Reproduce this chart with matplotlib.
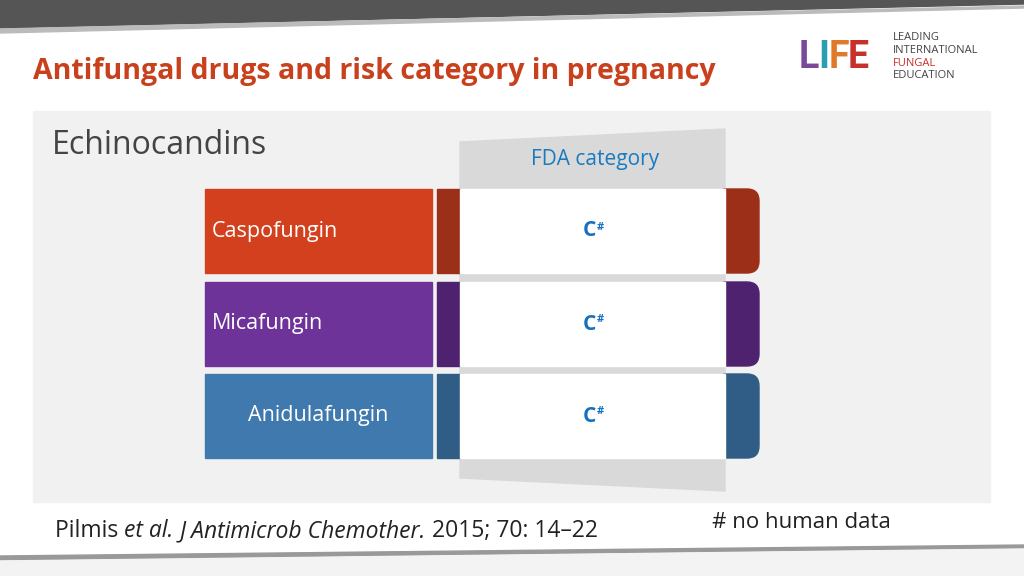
import matplotlib.pyplot as plt
from matplotlib.patches import Polygon, Rectangle, FancyBboxPatch

# data
drugs = ["Caspofungin", "Micafungin", "Anidulafungin"]
categories = ["C", "C", "C"]
main_colors = ["#d2401e", "#6e3399", "#4079ae"]
dark_colors = ["#9b2f18", "#4f2270", "#2f5d85"]

plt.rcParams['font.family'] = ['Open Sans', 'DejaVu Sans']

fig = plt.figure(figsize=(10.24, 5.76), dpi=100)
ax = fig.add_axes([0, 0, 1, 1])
ax.set_xlim(0, 1024)
ax.set_ylim(576, 0)
ax.axis("off")
r = fig.canvas.get_renderer()

# top dark band with grey stroke
ax.add_patch(Polygon([(0, 0), (1024, 0), (1024, 4), (0, 28)], color="#555555"))
ax.add_patch(Polygon([(0, 29), (1024, 6), (1024, 8), (0, 33)], color="#bbbbbb"))
# bottom stroke
ax.add_patch(Polygon([(0, 556), (1024, 545), (1024, 548), (0, 560)], color="#999999"))
ax.add_patch(Polygon([(0, 561), (1024, 549), (1024, 576), (0, 576)], color="#f3f3f3"))

ax.text(33, 72, "Antifungal drugs and risk category in pregnancy", fontsize=20.5,
        fontweight="bold", color="#c8401c", va="center", ha="left")

# logo
logo_cols = ["#7a4a9a", "#2a9fb0", "#e07a2a", "#c8302a"]
x = 799
for ch, c in zip("LIFE", logo_cols):
    tx = ax.text(x, 57, ch, fontsize=27, fontweight="bold", color=c,
                 va="center", ha="left", family="Roboto")
    x += tx.get_window_extent(renderer=r).width - 1
for i, (t, c) in enumerate([("LEADING", "#444444"), ("INTERNATIONAL", "#444444"),
                            ("FUNGAL", "#c8302a"), ("EDUCATION", "#444444")]):
    ax.text(893, 38 + i * 12.5, t, fontsize=8, color=c, va="center", ha="left")

# grey panel
ax.add_patch(Rectangle((33, 111), 957, 391, color="#f1f1f1"))
ax.text(52, 145, "Echinocandins", fontsize=23, color="#444444", va="center")

# FDA column
ax.add_patch(Polygon([(460, 142), (725, 129), (725, 491), (460, 478)], color="#d9d9d9"))
ax.text(595, 160, "FDA category", fontsize=15, color="#1a7abf", ha="center", va="center")

tops = [189, 282, 374]
h = 84
for y, name, cat, mc, dc in zip(tops, drugs, categories, main_colors, dark_colors):
    ax.add_patch(FancyBboxPatch((715, y), 44, h, boxstyle="round,pad=0,rounding_size=12",
                                color=dc))
    ax.add_patch(Rectangle((205, y), 227, h, color=mc))
    ax.add_patch(Rectangle((437, y), 23, h, color=dc))
    ax.add_patch(Rectangle((460, y), 265, h, color="white"))
    ha, x = ("left", 212) if name != "Anidulafungin" else ("center", 318)
    ax.text(x, y + h / 2, name, fontsize=15.5, color="white", ha=ha, va="center")
    ax.text(596, y + h / 2, cat, fontsize=15, fontweight="bold", color="#1570c0",
            ha="right", va="center")
    ax.text(597, y + h / 2 - 4, "#", fontsize=8, fontweight="bold", color="#1570c0",
            ha="left", va="center")

# citation with mixed styles
x = 55
for t, st in [("Pilmis ", "normal"), ("et al.", "italic"), (" ", "normal"),
              ("J Antimicrob Chemother.", "italic"), (" 2015; 70: 14\u201322", "normal")]:
    tx = ax.text(x, 531, t, fontsize=16.5, color="#222222", va="center", style=st)
    x += tx.get_window_extent(renderer=r).width
ax.text(712, 522, "# no human data", fontsize=16, color="#222222", va="center")

fig.savefig("out.png", dpi=100)
